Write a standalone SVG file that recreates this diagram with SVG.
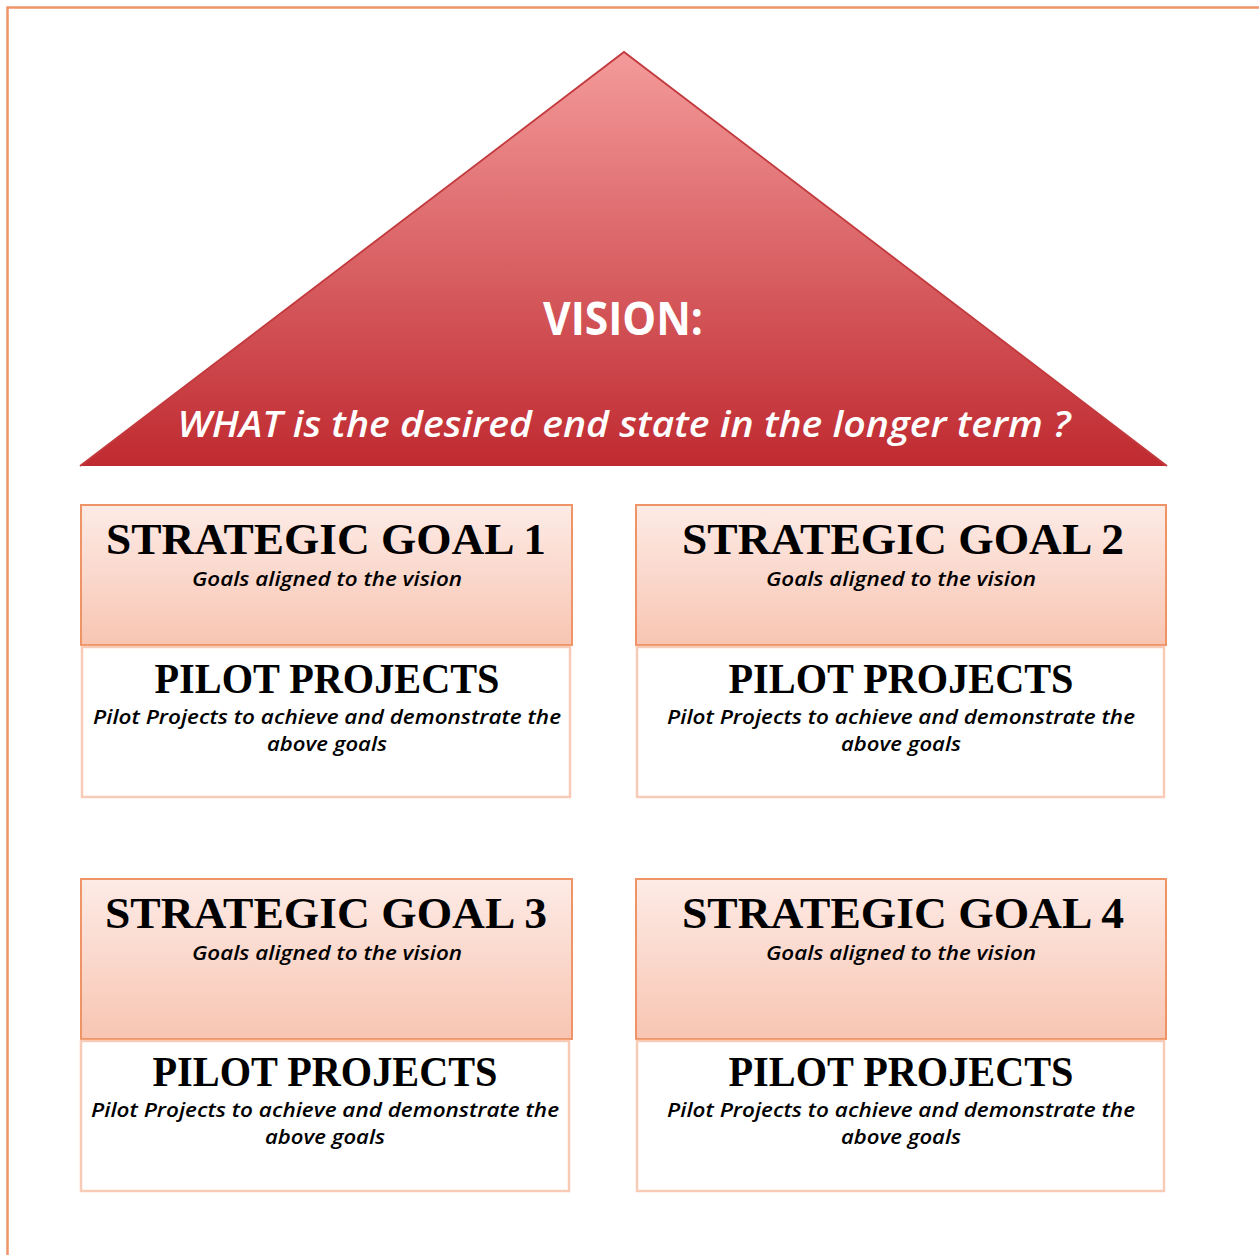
<svg xmlns="http://www.w3.org/2000/svg" width="1259" height="1255" viewBox="0 0 1259 1255">
<defs>
<linearGradient id="triGrad" x1="0" y1="0" x2="0" y2="1">
<stop offset="0" stop-color="#f49a9a"/>
<stop offset="1" stop-color="#bf2a30"/>
</linearGradient>
<linearGradient id="goalGrad" x1="0" y1="0" x2="0" y2="1">
<stop offset="0" stop-color="#fdebe6"/>
<stop offset="1" stop-color="#f8c5b2"/>
</linearGradient>
</defs>
<style>
.frame{fill:none;stroke:#f0946a;stroke-width:2.5}
.goal{fill:url(#goalGrad);stroke:#ee9467;stroke-width:2}
.pilot{fill:#ffffff;stroke:#f8cbb6;stroke-width:2.5}
.h{font-family:"Liberation Serif","Times New Roman",serif;font-weight:bold;fill:#000;text-anchor:middle}
.s{font-family:"Open Sans","DejaVu Sans",sans-serif;font-style:italic;font-weight:600;fill:#000;text-anchor:middle;font-size:20px}
.v{font-family:"Open Sans","DejaVu Sans",sans-serif;fill:#fff;text-anchor:middle}
</style>
<rect width="1259" height="1255" fill="#ffffff"/>
<path class="frame" d="M7.5,1255 V7.5 H1259"/>
<g id="vision">
<polygon points="624,52 80,466 1167,466" fill="url(#triGrad)"/>
<polyline points="80,466 624,52 1167,466" fill="none" stroke="#c23a3d" stroke-width="1.8" stroke-linejoin="miter"/>
<text class="v" x="623" y="335" font-size="46" font-weight="bold" textLength="160" lengthAdjust="spacingAndGlyphs">VISION:</text>
<text class="v" x="624" y="437" font-size="36" font-style="italic" font-weight="600" textLength="893" lengthAdjust="spacingAndGlyphs">WHAT is the desired end state in the longer term ?</text>
</g>
<g id="goal1">
<rect class="goal" x="81" y="505" width="491" height="140"/>
<text class="h" x="326" y="554" font-size="45" textLength="440" lengthAdjust="spacingAndGlyphs">STRATEGIC GOAL 1</text>
<text class="s" x="327" y="586" textLength="270" lengthAdjust="spacingAndGlyphs">Goals aligned to the vision</text>
</g>
<g id="pilot1">
<rect class="pilot" x="82" y="647" width="488" height="150"/>
<text class="h" x="327" y="693" font-size="42" textLength="345" lengthAdjust="spacingAndGlyphs">PILOT PROJECTS</text>
<text class="s" x="327" y="724" textLength="468" lengthAdjust="spacingAndGlyphs">Pilot Projects to achieve and demonstrate the</text>
<text class="s" x="327" y="751" textLength="120" lengthAdjust="spacingAndGlyphs">above goals</text>
</g>
<g id="goal2">
<rect class="goal" x="636" y="505" width="530" height="140"/>
<text class="h" x="903" y="554" font-size="45" textLength="442" lengthAdjust="spacingAndGlyphs">STRATEGIC GOAL 2</text>
<text class="s" x="901" y="586" textLength="270" lengthAdjust="spacingAndGlyphs">Goals aligned to the vision</text>
</g>
<g id="pilot2">
<rect class="pilot" x="637" y="647" width="527" height="150"/>
<text class="h" x="901" y="693" font-size="42" textLength="345" lengthAdjust="spacingAndGlyphs">PILOT PROJECTS</text>
<text class="s" x="901" y="724" textLength="468" lengthAdjust="spacingAndGlyphs">Pilot Projects to achieve and demonstrate the</text>
<text class="s" x="901" y="751" textLength="120" lengthAdjust="spacingAndGlyphs">above goals</text>
</g>
<g id="goal3">
<rect class="goal" x="81" y="879" width="491" height="160"/>
<text class="h" x="326" y="928" font-size="45" textLength="442" lengthAdjust="spacingAndGlyphs">STRATEGIC GOAL 3</text>
<text class="s" x="327" y="960" textLength="270" lengthAdjust="spacingAndGlyphs">Goals aligned to the vision</text>
</g>
<g id="pilot3">
<rect class="pilot" x="81" y="1041" width="488" height="150"/>
<text class="h" x="325" y="1086" font-size="42" textLength="345" lengthAdjust="spacingAndGlyphs">PILOT PROJECTS</text>
<text class="s" x="325" y="1117" textLength="468" lengthAdjust="spacingAndGlyphs">Pilot Projects to achieve and demonstrate the</text>
<text class="s" x="325" y="1144" textLength="120" lengthAdjust="spacingAndGlyphs">above goals</text>
</g>
<g id="goal4">
<rect class="goal" x="636" y="879" width="530" height="160"/>
<text class="h" x="903" y="928" font-size="45" textLength="442" lengthAdjust="spacingAndGlyphs">STRATEGIC GOAL 4</text>
<text class="s" x="901" y="960" textLength="270" lengthAdjust="spacingAndGlyphs">Goals aligned to the vision</text>
</g>
<g id="pilot4">
<rect class="pilot" x="637" y="1041" width="527" height="150"/>
<text class="h" x="901" y="1086" font-size="42" textLength="345" lengthAdjust="spacingAndGlyphs">PILOT PROJECTS</text>
<text class="s" x="901" y="1117" textLength="468" lengthAdjust="spacingAndGlyphs">Pilot Projects to achieve and demonstrate the</text>
<text class="s" x="901" y="1144" textLength="120" lengthAdjust="spacingAndGlyphs">above goals</text>
</g>
<g id="connectors"></g>
</svg>
